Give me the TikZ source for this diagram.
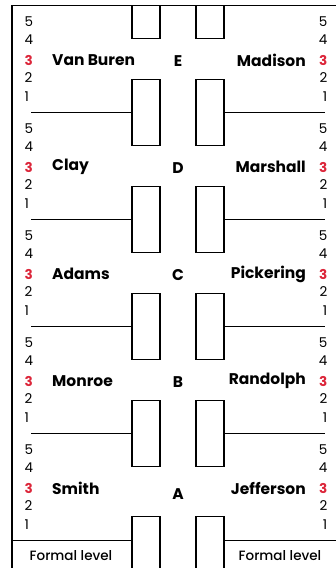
\documentclass[tikz,border=0pt]{standalone}
\usepackage{fontspec}
\setmainfont{Poppins}
\newfontfamily\medfont{Poppins}[UprightFont=* Medium]
\usepackage{tikz}
\definecolor{rankred}{RGB}{220,38,58}

\begin{document}
\begin{tikzpicture}[x=1pt,y=-1pt,
        line/.style={line width=1.4pt},
        seat/.style={draw,line width=1.4pt,minimum width=28pt,minimum height=66pt,inner sep=0pt},
        num/.style={inner sep=0pt,font=\fontsize{13.5}{13.5}\selectfont},
        first/.style={inner sep=0pt,text=rankred,font=\fontsize{13.5}{13.5}\selectfont\bfseries},
        who/.style={inner sep=0pt,font=\fontsize{15.5}{15.5}\selectfont\bfseries},
        level/.style={inner sep=0pt,font=\fontsize{13.5}{13.5}\medfont}]
    \useasboundingbox (0,0) rectangle (336,568);

    % Frame
    \coordinate (tl) at (12,5.5);
    \coordinate (tr) at (336,5.5);
    \coordinate (bl) at (12,568);
    \draw[line] (bl) -- (tl) -- (tr);

    % Seats cut by the frame
    \node[seat,minimum height=33pt] (sl0) at (146,22) {};
    \node[seat,minimum height=33pt] (sr0) at (210,22) {};

    % Seats between the levels
    \foreach \j in {1,...,4} {
        \node[seat] (sl\j) at (146,5.5+107*\j) {};
        \node[seat] (sr\j) at (210,5.5+107*\j) {};
        \coordinate (el\j) at (31,5.5+107*\j);
        \coordinate (er\j) at (325,5.5+107*\j);
        \draw[line] (el\j) -- (sl\j);
        \draw[line] (sr\j) -- (er\j);
    }

    % Formal level
    \node[seat,minimum height=70pt,anchor=north] (sl5) at (146,516) {};
    \node[seat,minimum height=70pt,anchor=north] (sr5) at (210,516) {};
    \coordinate (fl) at (12,540.5);
    \coordinate (fr) at (336,540.5);
    \draw[line] (fl) -- (sl5.west |- fl);
    \draw[line] (sr5.east |- fr) -- (fr);
    \node[level] (fml) at (71,556) {Formal level};
    \node[level] (fmr) at (280,556) {Formal level};

    % Levels E to A
    \foreach \i/\ltr/\lname/\rname/\ly in {0/E/Van Buren/Madison/55.5,
            1/D/Clay/Marshall/55.5,2/C/Adams/Pickering/55.5,
            3/B/Monroe/Randolph/55.5,4/A/Smith/Jefferson/61} {
        \pgfmathsetmacro{\ytop}{5.5+107*\i}
        \foreach \n/\dy in {5/16.5,4/34.5,2/72.5,1/91.5} {
            \node[num,anchor=west] (l\n\i) at (24.5,\ytop+\dy) {\n};
            \node[num,anchor=east] (r\n\i) at (327.5,\ytop+\dy) {\n};
        }
        \node[first,anchor=west] (l3\i) at (24.5,\ytop+54.5) {3};
        \node[first,anchor=east] (r3\i) at (327.5,\ytop+54.5) {3};
        \node[who,anchor=west] (nl\i) at (52,\ytop+54.5) {\lname};
        \node[who,anchor=east] (nr\i) at (306,\ytop+54.5) {\rname};
        \node[who] (lv\i) at (178,\ytop+\ly) {\ltr};
    }
\end{tikzpicture}
\end{document}
